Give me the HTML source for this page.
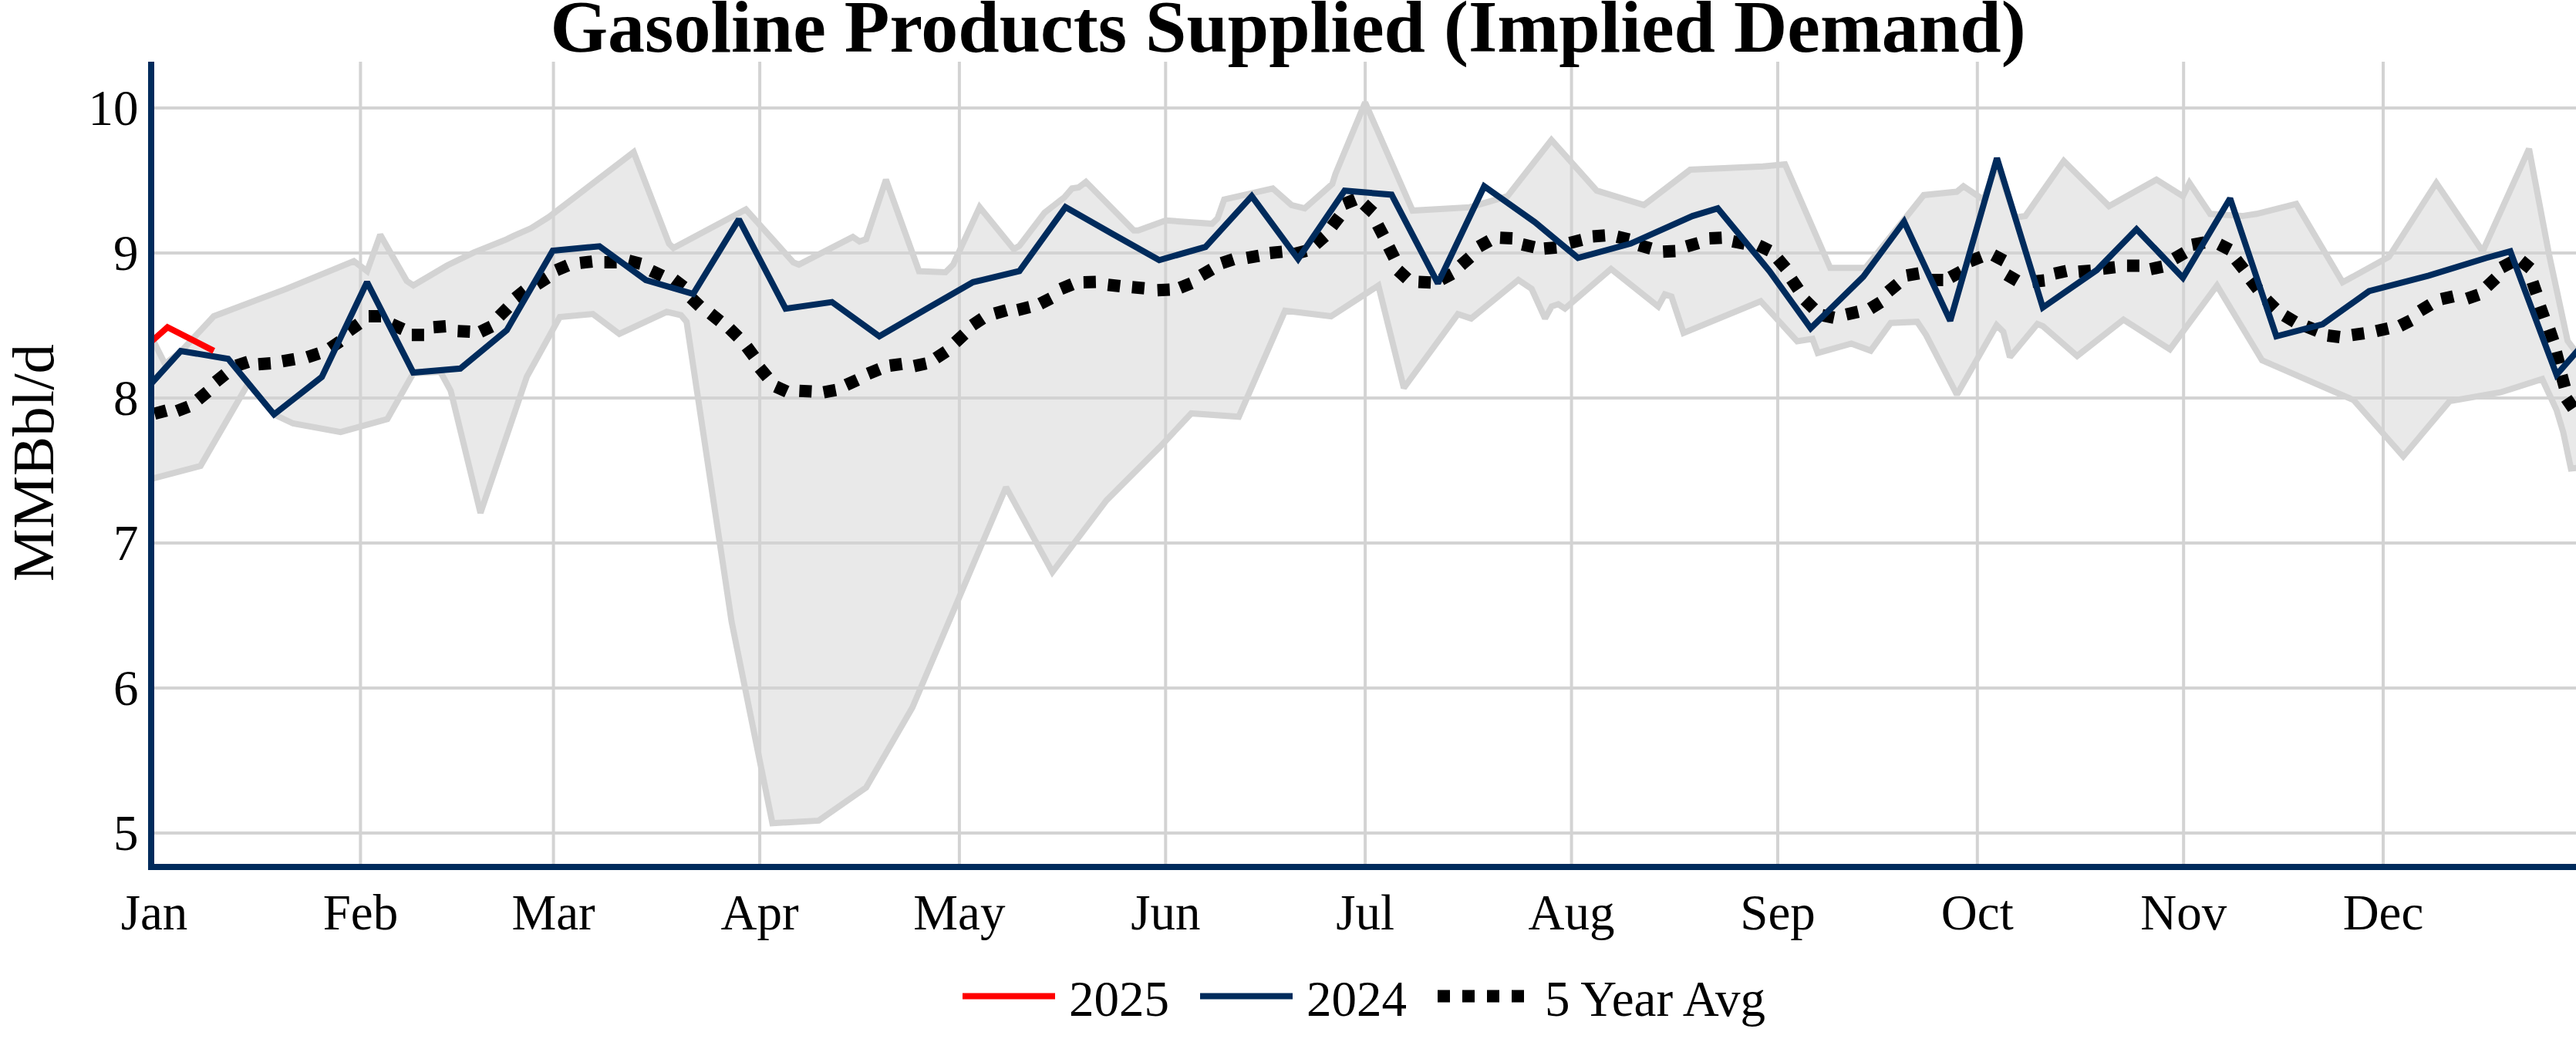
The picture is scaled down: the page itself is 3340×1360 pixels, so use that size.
<!DOCTYPE html>
<html><head><meta charset="utf-8"><style>
html,body{margin:0;padding:0;background:#fff;overflow:hidden}
svg{display:block}
text{font-family:"Liberation Serif",serif;fill:#000}
</style></head><body>
<svg width="3340" height="1360" viewBox="0 0 3340 1360">
<rect width="3340" height="1360" fill="#fff"/>
<g stroke="#d3d3d3" stroke-width="4"><line x1="467.4" y1="80" x2="467.4" y2="1120" /><line x1="717.6" y1="80" x2="717.6" y2="1120" /><line x1="985.1" y1="80" x2="985.1" y2="1120" /><line x1="1243.9" y1="80" x2="1243.9" y2="1120" /><line x1="1511.3" y1="80" x2="1511.3" y2="1120" /><line x1="1770.1" y1="80" x2="1770.1" y2="1120" /><line x1="2037.6" y1="80" x2="2037.6" y2="1120" /><line x1="2305.0" y1="80" x2="2305.0" y2="1120" /><line x1="2563.8" y1="80" x2="2563.8" y2="1120" /><line x1="2831.2" y1="80" x2="2831.2" y2="1120" /><line x1="3090.0" y1="80" x2="3090.0" y2="1120" /><line x1="200" y1="1080" x2="3340" y2="1080" /><line x1="200" y1="892" x2="3340" y2="892" /><line x1="200" y1="704" x2="3340" y2="704" /><line x1="200" y1="516" x2="3340" y2="516" /><line x1="200" y1="328" x2="3340" y2="328" /><line x1="200" y1="140" x2="3340" y2="140" /></g>
<defs><clipPath id="pa"><rect x="200" y="80" width="3140" height="1040"/></clipPath></defs>
<g clip-path="url(#pa)">
<polygon points="190.0,420.0 200.0,444.2 214.0,472.0 234.3,456.0 277.2,410.0 371.5,374.4 458.8,338.6 476.0,351.5 493.0,304.3 527.4,364.3 536.0,370.0 580.0,344.0 614.3,327.3 657.2,310.1 665.8,305.8 688.7,295.8 711.5,281.5 821.6,197.2 867.4,315.8 873.1,321.5 967.1,271.5 1028.6,340.1 1035.8,343.0 1105.8,307.2 1114.4,313.0 1123.0,310.1 1148.7,232.9 1191.6,351.5 1225.9,353.0 1235.9,343.0 1270.2,268.6 1314.5,323.0 1321.7,318.7 1354.3,275.8 1380.0,255.8 1390.0,244.3 1398.6,242.9 1408.0,235.8 1470.1,298.7 1475.8,298.7 1511.6,285.8 1571.6,290.1 1578.7,283.0 1587.3,258.6 1650.2,244.3 1674.5,265.8 1691.7,270.1 1727.4,238.6 1731.4,225.8 1770.0,132.9 1831.5,273.0 1905.8,268.7 1954.5,254.4 2011.6,181.5 2070.3,247.2 2131.5,265.8 2191.5,220.0 2285.8,215.8 2314.4,212.9 2373.0,347.3 2418.8,347.3 2494.3,252.9 2537.2,248.6 2545.8,241.5 2572.0,259.0 2589.2,212.0 2613.0,282.0 2626.0,280.0 2675.9,208.6 2734.5,267.2 2796.0,232.9 2830.3,254.3 2838.8,237.2 2865.7,277.3 2907.2,280.1 2925.8,277.3 2977.3,264.4 3037.4,366.0 3097.4,333.1 3158.9,237.2 3219.0,325.9 3279.1,192.9 3304.8,328.8 3329.1,441.8 3350.0,470.0 3350.0,606.0 3333.4,607.4 3323.4,560.2 3314.8,531.6 3296.2,491.5 3241.9,508.7 3176.1,520.1 3116.0,591.7 3051.7,518.7 2933.0,467.2 2874.5,370.2 2813.4,452.9 2753.3,414.3 2693.2,461.5 2648.9,422.9 2641.7,420.0 2606.0,463.0 2597.4,430.1 2588.8,421.5 2537.3,511.6 2497.3,434.4 2485.8,417.2 2451.5,418.7 2425.5,454.6 2400.4,445.4 2356.9,457.6 2350.0,439.3 2330.2,442.4 2282.9,390.5 2182.9,431.6 2167.2,384.5 2158.6,381.6 2150.0,397.3 2088.8,348.7 2029.1,400.0 2020.5,394.3 2011.9,397.2 2003.3,412.9 1985.9,374.5 1968.7,363.0 1907.5,412.9 1890.3,407.2 1820.2,503.0 1787.2,370.2 1725.8,410.0 1666.2,402.9 1606.2,540.2 1544.6,535.9 1503.2,580.2 1434.5,648.9 1364.5,741.6 1304.4,631.7 1183.0,917.2 1123.0,1021.0 1061.6,1063.9 1001.5,1067.3 948.6,806.0 890.2,417.2 883.0,408.6 864.5,404.3 803.0,432.9 768.7,407.1 725.8,411.0 683.0,488.6 623.0,665.0 584.4,506.7 571.0,482.0 535.8,484.0 502.2,543.4 441.6,560.2 380.0,549.0 355.3,537.3 322.0,497.0 260.0,604.0 200.0,620.0 190.0,623.0" fill="rgb(211,211,211)" fill-opacity="0.5" stroke="none"/>
<polygon points="190.0,420.0 200.0,444.2 214.0,472.0 234.3,456.0 277.2,410.0 371.5,374.4 458.8,338.6 476.0,351.5 493.0,304.3 527.4,364.3 536.0,370.0 580.0,344.0 614.3,327.3 657.2,310.1 665.8,305.8 688.7,295.8 711.5,281.5 821.6,197.2 867.4,315.8 873.1,321.5 967.1,271.5 1028.6,340.1 1035.8,343.0 1105.8,307.2 1114.4,313.0 1123.0,310.1 1148.7,232.9 1191.6,351.5 1225.9,353.0 1235.9,343.0 1270.2,268.6 1314.5,323.0 1321.7,318.7 1354.3,275.8 1380.0,255.8 1390.0,244.3 1398.6,242.9 1408.0,235.8 1470.1,298.7 1475.8,298.7 1511.6,285.8 1571.6,290.1 1578.7,283.0 1587.3,258.6 1650.2,244.3 1674.5,265.8 1691.7,270.1 1727.4,238.6 1731.4,225.8 1770.0,132.9 1831.5,273.0 1905.8,268.7 1954.5,254.4 2011.6,181.5 2070.3,247.2 2131.5,265.8 2191.5,220.0 2285.8,215.8 2314.4,212.9 2373.0,347.3 2418.8,347.3 2494.3,252.9 2537.2,248.6 2545.8,241.5 2572.0,259.0 2589.2,212.0 2613.0,282.0 2626.0,280.0 2675.9,208.6 2734.5,267.2 2796.0,232.9 2830.3,254.3 2838.8,237.2 2865.7,277.3 2907.2,280.1 2925.8,277.3 2977.3,264.4 3037.4,366.0 3097.4,333.1 3158.9,237.2 3219.0,325.9 3279.1,192.9 3304.8,328.8 3329.1,441.8 3350.0,470.0 3350.0,606.0 3333.4,607.4 3323.4,560.2 3314.8,531.6 3296.2,491.5 3241.9,508.7 3176.1,520.1 3116.0,591.7 3051.7,518.7 2933.0,467.2 2874.5,370.2 2813.4,452.9 2753.3,414.3 2693.2,461.5 2648.9,422.9 2641.7,420.0 2606.0,463.0 2597.4,430.1 2588.8,421.5 2537.3,511.6 2497.3,434.4 2485.8,417.2 2451.5,418.7 2425.5,454.6 2400.4,445.4 2356.9,457.6 2350.0,439.3 2330.2,442.4 2282.9,390.5 2182.9,431.6 2167.2,384.5 2158.6,381.6 2150.0,397.3 2088.8,348.7 2029.1,400.0 2020.5,394.3 2011.9,397.2 2003.3,412.9 1985.9,374.5 1968.7,363.0 1907.5,412.9 1890.3,407.2 1820.2,503.0 1787.2,370.2 1725.8,410.0 1666.2,402.9 1606.2,540.2 1544.6,535.9 1503.2,580.2 1434.5,648.9 1364.5,741.6 1304.4,631.7 1183.0,917.2 1123.0,1021.0 1061.6,1063.9 1001.5,1067.3 948.6,806.0 890.2,417.2 883.0,408.6 864.5,404.3 803.0,432.9 768.7,407.1 725.8,411.0 683.0,488.6 623.0,665.0 584.4,506.7 571.0,482.0 535.8,484.0 502.2,543.4 441.6,560.2 380.0,549.0 355.3,537.3 322.0,497.0 260.0,604.0 200.0,620.0 190.0,623.0" fill="none" stroke="#d3d3d3" stroke-width="8" stroke-miterlimit="2"/>
<path d="M170.5 548.9L185.5 543.1M200.3 536.4L215.7 532.2M229.5 532.9L244.5 527.1M256.8 518.1L269.2 507.9M279.8 495.0L292.2 485.0M306.4 474.1L321.6 469.1M335.0 472.2L351.0 471.0M366.1 468.4L381.9 465.6M398.4 463.2L413.6 458.2M427.9 451.5L441.1 442.5M452.3 429.1L465.3 419.7M478.0 410.1L494.0 409.9M507.9 420.4L522.5 426.8M533.9 434.3L549.9 434.3M562.1 424.2L578.1 423.0M593.4 429.3L609.4 430.1M622.8 430.3L637.2 423.3M647.3 410.2L658.5 398.8M668.2 386.6L680.6 376.6M696.2 368.7L709.8 360.1M721.3 350.4L736.1 344.2M752.1 340.9L767.9 339.1M783.6 340.0L799.6 340.0M815.2 338.1L830.8 341.9M844.4 351.0L858.8 357.8M873.8 362.5L886.6 372.1M895.9 386.1L907.5 397.1M921.2 406.6L933.6 416.6M945.8 425.9L957.2 437.1M968.1 449.4L977.7 462.2M984.9 476.8L995.1 489.2M1005.7 501.1L1020.3 507.7M1036.4 506.8L1052.4 507.6M1067.9 508.7L1083.7 505.7M1097.1 499.1L1111.7 492.5M1125.6 484.5L1140.4 478.5M1153.7 474.0L1169.5 471.8M1185.2 474.6L1200.8 471.2M1213.5 464.4L1226.9 455.6M1238.6 444.0L1250.4 433.2M1260.7 421.6L1274.1 412.8M1289.7 406.5L1305.1 402.1M1319.4 401.9L1335.0 398.1M1348.6 393.8L1362.8 386.6M1375.5 374.7L1390.3 368.5M1404.9 366.0L1420.9 365.6M1436.5 369.2L1452.3 371.0M1467.8 372.3L1483.8 373.7M1500.7 376.3L1516.7 375.5M1529.9 373.1L1544.7 367.1M1557.5 357.0L1571.3 349.0M1584.0 341.2L1599.2 336.2M1616.6 334.4L1632.4 331.6M1646.5 328.0L1662.5 326.4M1678.3 329.3L1693.7 325.1M1705.7 316.8L1717.7 306.2M1726.8 293.7L1736.6 280.9M1742.6 264.5L1757.4 258.5M1768.4 264.7L1780.2 275.5M1786.3 291.6L1793.7 305.8M1800.7 320.1L1807.9 334.5M1812.7 350.5L1824.5 361.3M1839.2 365.5L1855.2 366.3M1868.7 362.4L1882.9 355.0M1894.1 344.0L1906.1 333.4M1917.4 319.8L1931.4 312.0M1945.0 308.3L1961.0 309.1M1973.8 316.9L1989.4 320.5M2002.2 322.3L2018.2 320.9M2035.3 314.9L2050.9 311.1M2065.1 306.5L2081.1 305.3M2096.7 306.9L2112.3 310.5M2125.2 317.9L2140.6 322.3M2156.3 326.2L2172.3 325.4M2186.7 319.5L2202.1 315.1M2216.4 309.1L2232.4 308.3M2246.6 312.8L2262.2 316.0M2280.1 318.1L2294.5 325.1M2305.0 335.5L2315.4 347.7M2322.8 362.1L2331.8 375.3M2340.2 388.9L2351.6 400.1M2362.4 408.6L2378.0 411.8M2393.8 407.7L2409.4 404.1M2424.9 400.1L2438.5 391.7M2448.3 378.1L2460.7 367.9M2472.3 357.2L2488.1 354.4M2503.5 363.0L2519.5 363.0M2528.8 359.6L2542.8 352.0M2554.0 338.7L2569.0 332.9M2584.4 330.7L2598.6 338.1M2601.8 356.1L2615.6 364.1M2635.1 365.3L2650.9 363.5M2663.8 354.7L2679.4 351.3M2695.0 352.3L2711.0 350.9M2726.6 348.2L2742.4 346.4M2757.9 344.4L2773.9 344.4M2788.2 349.0L2803.8 345.6M2819.1 335.5L2832.9 327.5M2842.4 317.3L2858.2 314.3M2877.2 316.6L2891.4 323.8M2899.3 336.8L2909.3 349.4M2918.0 362.5L2927.8 375.1M2938.7 389.0L2950.1 400.2M2961.8 409.1L2975.6 417.3M2989.9 423.0L3004.7 429.0M3018.0 435.0L3033.8 437.0M3049.5 434.3L3065.3 432.1M3081.0 429.3L3096.6 425.7M3111.8 422.5L3126.0 415.3M3137.8 403.0L3151.4 394.8M3165.4 387.8L3181.0 384.2M3198.5 387.2L3213.7 382.0M3224.6 371.5L3236.2 360.5M3243.4 346.8L3257.6 339.4M3268.7 338.0L3280.9 348.2M3283.6 365.5L3288.8 380.7M3293.3 397.1L3298.7 412.1M3305.4 426.9L3310.6 442.1M3314.0 456.3L3318.0 471.7M3321.3 486.7L3325.5 502.1M3327.5 516.4L3336.5 529.6M3349.9 537.9L3362.1 548.1" fill="none" stroke="#000" stroke-width="16"/>
<polyline points="173.9,521.9 234.3,455.0 295.8,465.3 355.3,537.3 417.3,488.7 475.9,365.8 535.8,483.1 596.8,477.8 657.0,428.2 716.7,325.0 777.3,319.3 837.3,363.0 898.8,381.0 958.0,284.4 1018.6,400.2 1078.7,391.6 1140.1,435.9 1201.6,400.2 1261.6,365.8 1321.7,351.5 1381.5,268.6 1442.0,303.0 1503.0,337.3 1563.0,320.1 1623.0,254.3 1683.1,335.8 1743.4,247.2 1804.3,252.4 1864.4,367.3 1924.4,241.5 1990.0,288.0 2046.0,334.4 2114.3,315.8 2194.4,280.1 2227.2,270.1 2294.4,351.6 2347.7,425.6 2416.0,358.7 2468.8,287.2 2528.6,415.9 2589.2,205.0 2648.7,398.7 2718.7,350.1 2770.2,297.2 2830.3,360.1 2891.5,257.3 2951.5,436.0 3011.6,420.3 3071.7,377.4 3148.9,357.4 3223.3,334.5 3254.8,325.9 3314.8,485.8 3375.0,417.0" fill="none" stroke="#002b5c" stroke-width="8" stroke-miterlimit="2"/>
<polyline points="157.0,477.5 217.2,424.3 277.2,454.9" fill="none" stroke="#ff0000" stroke-width="8" stroke-miterlimit="2"/>
</g>
<rect x="192" y="80" width="8" height="1048" fill="#002b5c"/>
<rect x="192" y="1120" width="3148" height="8" fill="#002b5c"/>
<text x="179.5" y="1102" font-size="65" text-anchor="end">5</text>
<text x="179.5" y="914" font-size="65" text-anchor="end">6</text>
<text x="179.5" y="726" font-size="65" text-anchor="end">7</text>
<text x="179.5" y="538" font-size="65" text-anchor="end">8</text>
<text x="179.5" y="350" font-size="65" text-anchor="end">9</text>
<text x="179.5" y="162" font-size="65" text-anchor="end">10</text>
<text x="200.0" y="1205" font-size="65" text-anchor="middle">Jan</text>
<text x="467.4" y="1205" font-size="65" text-anchor="middle">Feb</text>
<text x="717.6" y="1205" font-size="65" text-anchor="middle">Mar</text>
<text x="985.1" y="1205" font-size="65" text-anchor="middle">Apr</text>
<text x="1243.9" y="1205" font-size="65" text-anchor="middle">May</text>
<text x="1511.3" y="1205" font-size="65" text-anchor="middle">Jun</text>
<text x="1770.1" y="1205" font-size="65" text-anchor="middle">Jul</text>
<text x="2037.6" y="1205" font-size="65" text-anchor="middle">Aug</text>
<text x="2305.0" y="1205" font-size="65" text-anchor="middle">Sep</text>
<text x="2563.8" y="1205" font-size="65" text-anchor="middle">Oct</text>
<text x="2831.2" y="1205" font-size="65" text-anchor="middle">Nov</text>
<text x="3090.0" y="1205" font-size="65" text-anchor="middle">Dec</text>
<text x="1670" y="67" font-size="96" font-weight="bold" text-anchor="middle">Gasoline Products Supplied (Implied Demand)</text>
<text transform="translate(68.5,600) rotate(-90)" font-size="77" text-anchor="middle">MMBbl/d</text>
<line x1="1248" y1="1291.5" x2="1368" y2="1291.5" stroke="#ff0000" stroke-width="8" stroke-miterlimit="2"/>
<text x="1386" y="1317" font-size="65">2025</text>
<line x1="1556" y1="1291.5" x2="1676" y2="1291.5" stroke="#002b5c" stroke-width="8" stroke-miterlimit="2"/>
<text x="1694" y="1317" font-size="65">2024</text>
<line x1="1864" y1="1291.5" x2="1976" y2="1291.5" stroke="#000" stroke-width="16" stroke-dasharray="16 16" stroke-miterlimit="2"/>
<text x="2003" y="1317" font-size="65">5 Year Avg</text>
</svg></body></html>
